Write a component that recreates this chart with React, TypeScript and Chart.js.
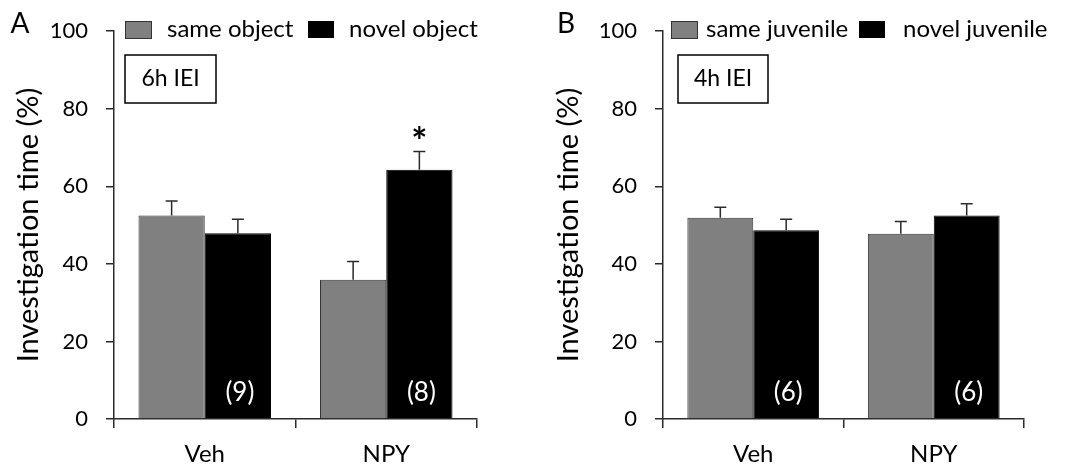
import React, { useEffect, useRef } from "react";
import { Chart, registerables } from "chart.js";

Chart.register(...registerables);

const categories = ["Veh", "NPY"];
const yTickValues = [0, 20, 40, 60, 80, 100];

const objLegend = ["same object", "novel object"];
const objSame = [52.5, 35.9];
const objSameSem = [3.7, 4.7];
const objNovel = [47.9, 64.3];
const objNovelSem = [3.6, 4.7];
const objN = ["(9)", "(8)"];
const objStars = ["", "*"];

const juvLegend = ["same juvenile", "novel juvenile"];
const juvSame = [51.9, 47.8];
const juvSameSem = [2.7, 3.1];
const juvNovel = [48.7, 52.5];
const juvNovelSem = [2.8, 3.0];
const juvN = ["(6)", "(6)"];
const juvStars = ["", ""];

const FONT = "Lato, 'Open Sans', sans-serif";
const AXIS = "#2a2a2a";

type PanelProps = {
  letter: string;
  letterX: number;
  legend: string[];
  iei: string;
  same: number[];
  sameSem: number[];
  novel: number[];
  novelSem: number[];
  nLabels: string[];
  stars: string[];
  left: number;
  width: number;
  axisLeft: number;
  padRight: number;
  leg: { b1: number; t1: number; b2: number; t2: number };
  box: { x: number; w: number };
};

function Panel(p: PanelProps) {
  const ref = useRef<HTMLCanvasElement | null>(null);
  useEffect(() => {
    if (!ref.current) return;
    const overlay = {
      id: "overlay",
      afterDatasetsDraw(chart: any) {
        const ctx = chart.ctx;
        const ys = chart.scales.y;
        const vals = [p.same, p.novel];
        const sems = [p.sameSem, p.novelSem];
        ctx.save();
        ctx.strokeStyle = AXIS;
        ctx.lineWidth = 1.5;
        for (let di = 0; di < 2; di++) {
          const meta = chart.getDatasetMeta(di);
          meta.data.forEach((bar: any, i: number) => {
            const x = bar.x;
            const top = ys.getPixelForValue(vals[di][i]);
            const et = ys.getPixelForValue(vals[di][i] + sems[di][i]);
            ctx.beginPath();
            ctx.moveTo(x, top);
            ctx.lineTo(x, et);
            ctx.moveTo(x - 6, et);
            ctx.lineTo(x + 6, et);
            ctx.stroke();
          });
        }
        const meta1 = chart.getDatasetMeta(1);
        meta1.data.forEach((bar: any, i: number) => {
          ctx.fillStyle = "#fff";
          ctx.font = `26px ${FONT}`;
          ctx.textAlign = "center";
          ctx.textBaseline = "middle";
          ctx.fillText(p.nLabels[i], bar.x + 2, ys.getPixelForValue(0) - 26);
          if (p.stars[i]) {
            const et = ys.getPixelForValue(p.novel[i] + p.novelSem[i]);
            ctx.fillStyle = "#000";
            ctx.font = `bold 38px ${FONT}`;
            ctx.textBaseline = "alphabetic";
            ctx.fillText(p.stars[i], bar.x, et + 4);
          }
        });
        ctx.restore();
      },
      afterDraw(chart: any) {
        const ctx = chart.ctx;
        ctx.save();
        ctx.fillStyle = "#000";
        ctx.font = `28px ${FONT}`;
        ctx.textAlign = "center";
        ctx.textBaseline = "middle";
        ctx.fillText(p.letter, p.letterX, 24);
        ctx.lineWidth = 1;
        ctx.fillStyle = "#808080";
        ctx.fillRect(p.leg.b1, 21, 26, 17);
        ctx.strokeStyle = "#333";
        ctx.strokeRect(p.leg.b1 + 0.5, 21.5, 26, 17);
        ctx.fillStyle = "#000";
        ctx.fillRect(p.leg.b2, 21, 26, 17);
        ctx.font = `24px ${FONT}`;
        ctx.textAlign = "left";
        ctx.fillText(p.legend[0], p.leg.t1, 29);
        ctx.fillText(p.legend[1], p.leg.t2, 29);
        ctx.strokeStyle = "#000";
        ctx.lineWidth = 1.5;
        ctx.strokeRect(p.box.x, 55, p.box.w, 48);
        ctx.font = `23px ${FONT}`;
        ctx.textAlign = "center";
        ctx.fillText(p.iei, p.box.x + p.box.w / 2, 79);
        ctx.restore();
      },
    };
    const chart = new Chart(ref.current, {
      type: "bar",
      data: {
        labels: categories,
        datasets: [
          {
            label: p.legend[0],
            data: p.same,
            backgroundColor: "#808080",
            borderColor: "#333",
            borderWidth: 1,
            categoryPercentage: 0.73,
            barPercentage: 1,
          },
          {
            label: p.legend[1],
            data: p.novel,
            backgroundColor: "#000",
            borderColor: "#000",
            borderWidth: 1,
            categoryPercentage: 0.73,
            barPercentage: 1,
          },
        ],
      },
      options: {
        animation: false,
        responsive: false,
        maintainAspectRatio: false,
        layout: { padding: { left: 0, top: 29, right: p.padRight, bottom: 0 } },
        plugins: { legend: { display: false }, tooltip: { enabled: false } },
        scales: {
          x: {
            grid: {
              display: true,
              drawOnChartArea: false,
              drawTicks: true,
              tickLength: 9,
              color: AXIS,
              lineWidth: 1.5,
              offset: true,
            },
            border: { display: true, color: AXIS, width: 1.5 },
            ticks: { font: { family: FONT, size: 24 }, color: "#000", padding: 12, maxRotation: 0 },
            afterFit: (s: any) => {
              s.height = 48;
            },
          },
          y: {
            min: 0,
            max: 100,
            afterBuildTicks: (s: any) => {
              s.ticks = yTickValues.map((v) => ({ value: v }));
            },
            grid: {
              display: true,
              drawOnChartArea: false,
              drawTicks: true,
              tickLength: 8,
              color: AXIS,
              lineWidth: 1.5,
            },
            border: { display: true, color: AXIS, width: 1.5 },
            ticks: { font: { family: FONT, size: 22 }, color: "#000", padding: 18 },
            title: {
              display: true,
              text: "Investigation time (%)",
              color: "#000",
              font: { family: FONT, size: 29 },
              padding: { top: 11, bottom: 0 },
            },
            afterFit: (s: any) => {
              s.width = p.axisLeft;
            },
          },
        },
      },
      plugins: [overlay],
    } as any);
    return () => chart.destroy();
  }, []);
  return (
    <canvas
      ref={ref}
      width={p.width}
      height={467}
      style={{ position: "absolute", left: p.left, top: 0, display: "block" }}
    />
  );
}

export default function App() {
  return (
    <div style={{ position: "absolute", left: 0, top: 0, width: 1082, height: 467, background: "#fff" }}>
      <Panel
        letter="A"
        letterX={20}
        legend={objLegend}
        iei="6h IEI"
        same={objSame}
        sameSem={objSameSem}
        novel={objNovel}
        novelSem={objNovelSem}
        nLabels={objN}
        stars={objStars}
        left={0}
        width={540}
        axisLeft={114}
        padRight={63}
        leg={{ b1: 125, t1: 167, b2: 308, t2: 349 }}
        box={{ x: 125, w: 91 }}
      />
      <Panel
        letter="B"
        letterX={26}
        legend={juvLegend}
        iei="4h IEI"
        same={juvSame}
        sameSem={juvSameSem}
        novel={juvNovel}
        novelSem={juvNovelSem}
        nLabels={juvN}
        stars={juvStars}
        left={540}
        width={542}
        axisLeft={123}
        padRight={58}
        leg={{ b1: 131, t1: 166, b2: 319, t2: 363 }}
        box={{ x: 138, w: 90 }}
      />
    </div>
  );
}
